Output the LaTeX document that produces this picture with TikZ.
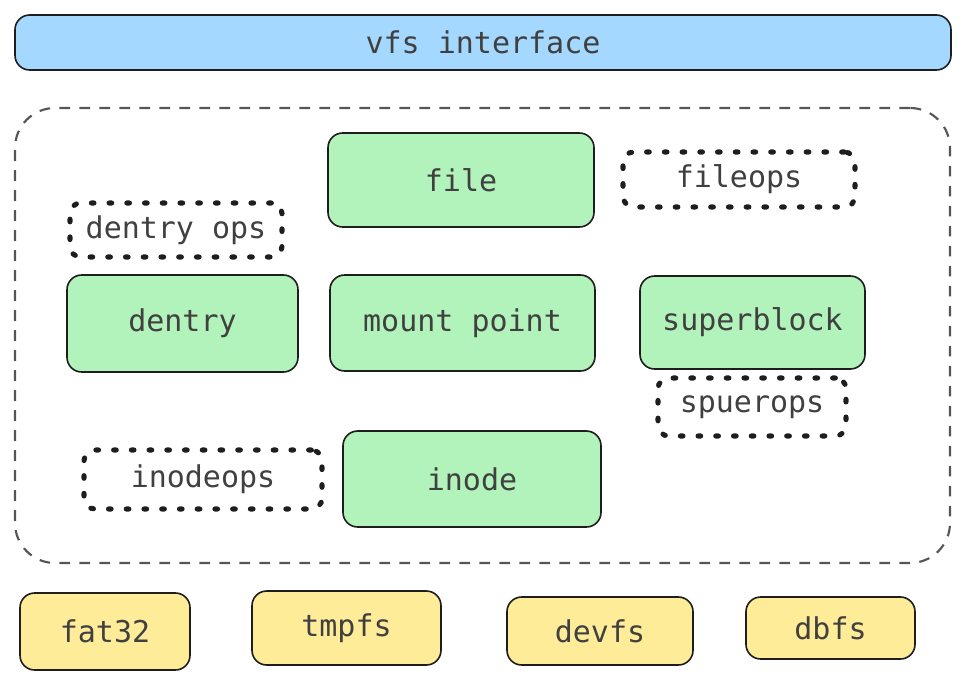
\documentclass[tikz,border=0pt]{standalone}
\usepackage{fontspec}
\setmonofont{DejaVu Sans Mono}
\definecolor{ink}{HTML}{1E1E1E}
\definecolor{vfsblue}{HTML}{A5D8FF}
\definecolor{boxgreen}{HTML}{B2F2BB}
\definecolor{fsyellow}{HTML}{FFEC99}
\definecolor{cgrey}{HTML}{555555}
\tikzset{
  base/.style={rectangle, rounded corners=11pt, draw=ink, line width=1.2pt, inner sep=0pt,
    font=\ttfamily\fontsize{22.5}{26}\selectfont, text=ink!85},
  vfsbox/.style={base, fill=vfsblue},
  objbox/.style={base, fill=boxgreen},
  fsbox/.style={base, fill=fsyellow},
  opsbox/.style={base, rounded corners=8pt, line width=3.8pt, line cap=round, dash pattern=on 2pt off 11.3pt, draw=ink},
  container/.style={rectangle, rounded corners=30pt, draw=cgrey, line width=1.6pt, dash pattern=on 8pt off 7pt, inner sep=0pt}
}
\begin{document}
\begin{tikzpicture}[x=0.75pt,y=-0.75pt]
\useasboundingbox (0,0) rectangle (967,686);
\node[vfsbox, minimum width=702pt, minimum height=41.25pt] (vfs) at (483,42.5) {vfs interface};
\node[container, minimum width=701.25pt, minimum height=341.25pt] (cont) at (482.5,335.5) {};
\node[objbox, minimum width=199.5pt, minimum height=70.5pt] (file) at (461,180) {file};
\node[opsbox, minimum width=174pt, minimum height=41.25pt] (fileops) at (739,179.5) {fileops};
\node[opsbox, minimum width=159pt, minimum height=40.5pt] (dentryops) at (176,230) {dentry ops};
\node[objbox, minimum width=173.25pt, minimum height=72.75pt] (dentry) at (182.5,323.5) {dentry};
\node[objbox, minimum width=198.75pt, minimum height=72pt] (mount) at (462.5,323) {mount point};
\node[objbox, minimum width=168.75pt, minimum height=69.75pt] (super) at (752.5,322.5) {superblock};
\node[opsbox, minimum width=141pt, minimum height=43.5pt] (superops) at (752,407) {spuerops};
\node[opsbox, minimum width=178.5pt, minimum height=44.25pt] (inodeops) at (203,479.5) {inodeops};
\node[objbox, minimum width=193.5pt, minimum height=72pt] (inode) at (472,479) {inode};
\node[fsbox, minimum width=127.5pt, minimum height=57.75pt] (fat) at (105,631.5) {fat32};
\node[fsbox, minimum width=141.75pt, minimum height=55.5pt] (tmpfs) at (346.5,628) {tmpfs};
\node[fsbox, minimum width=139.5pt, minimum height=51pt] (devfs) at (600,631) {devfs};
\node[fsbox, minimum width=126.75pt, minimum height=46.5pt] (dbfs) at (830.5,628) {dbfs};
\end{tikzpicture}
\end{document}
